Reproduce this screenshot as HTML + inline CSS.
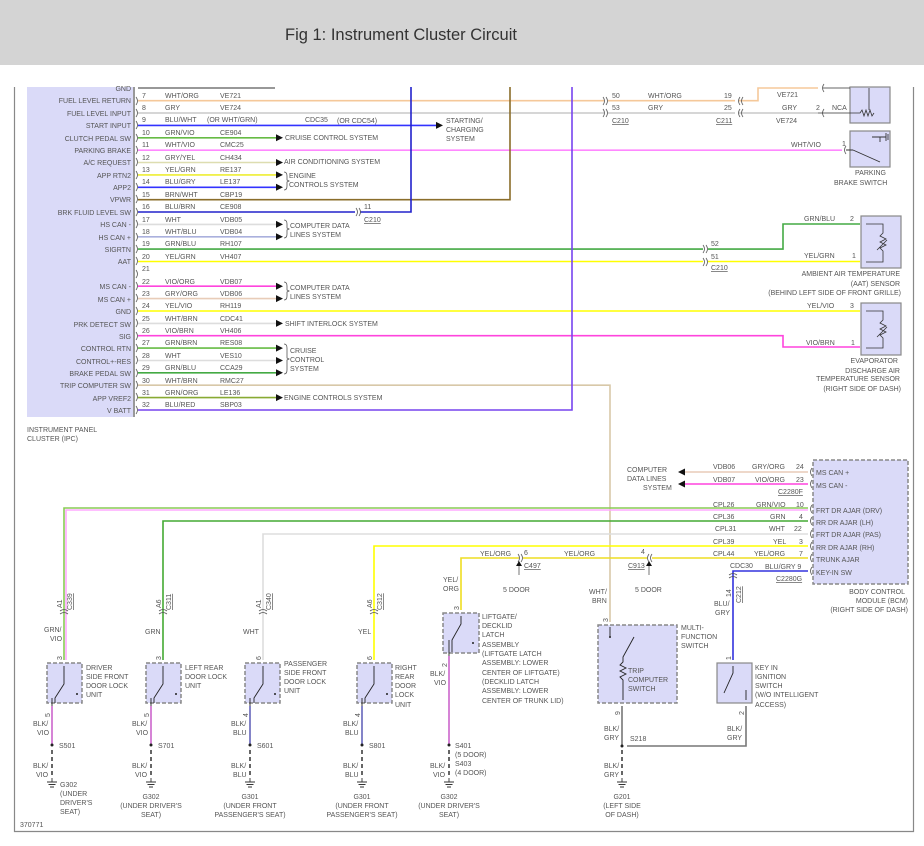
<!DOCTYPE html>
<html><head><meta charset="utf-8"><style>
html,body{margin:0;padding:0;background:#fff;width:924px;height:846px;overflow:hidden}
svg{display:block}
text{font-family:"Liberation Sans",sans-serif;font-size:7px;fill:#555}
.r{text-anchor:end}.m{text-anchor:middle}
.w{fill:none;stroke-width:1.6}
.c{fill:none;stroke:#555;stroke-width:.8}
.box{fill:#dadaf8;stroke:#888;stroke-width:1.2}
.dbox{fill:#dadaf8;stroke:#888;stroke-width:1.5;stroke-dasharray:4 2}
</style></head><body>
<svg width="924" height="846" viewBox="0 0 924 846" xmlns="http://www.w3.org/2000/svg">
<rect x="0" y="0" width="924" height="65" fill="#d4d4d4"/>
<text x="285" y="40" style="font-size:16.5px;fill:#333">Fig 1: Instrument Cluster Circuit</text>
<path d="M14.5 87V831.5H913.5V87" fill="none" stroke="#888" stroke-width="1.2"/>
<!-- IPC -->
<rect x="27" y="87" width="107" height="330" fill="#dadaf8"/>
<line x1="134" y1="87" x2="134" y2="417" stroke="#999" stroke-width="2"/>
<text x="27" y="432">INSTRUMENT PANEL</text><text x="27" y="441">CLUSTER (IPC)</text>
<g class="r">
<text x="131" y="91">GND</text>
<text x="131" y="103">FUEL LEVEL RETURN</text>
<text x="131" y="116">FUEL LEVEL INPUT</text>
<text x="131" y="128">START INPUT</text>
<text x="131" y="141">CLUTCH PEDAL SW</text>
<text x="131" y="153">PARKING BRAKE</text>
<text x="131" y="165">A/C REQUEST</text>
<text x="131" y="178">APP RTN2</text>
<text x="131" y="190">APP2</text>
<text x="131" y="202">VPWR</text>
<text x="131" y="215">BRK FLUID LEVEL SW</text>
<text x="131" y="227">HS CAN -</text>
<text x="131" y="240">HS CAN +</text>
<text x="131" y="252">SIGRTN</text>
<text x="131" y="264">AAT</text>
<text x="131" y="289">MS CAN -</text>
<text x="131" y="302">MS CAN +</text>
<text x="131" y="314">GND</text>
<text x="131" y="327">PRK DETECT SW</text>
<text x="131" y="339">SIG</text>
<text x="131" y="351">CONTROL RTN</text>
<text x="131" y="364">CONTROL+-RES</text>
<text x="131" y="376">BRAKE PEDAL SW</text>
<text x="131" y="388">TRIP COMPUTER SW</text>
<text x="131" y="401">APP VREF2</text>
<text x="131" y="413">V BATT</text>
</g>
<line x1="138" y1="88" x2="275" y2="88" stroke="#777" class="w"/>
<path class="w" stroke="#f5c89a" d="M138 100.7H604M608 100.7H735M739 100.7H758V88H818"/>
<path class="w" stroke="#c8c8c8" d="M138 113H604M608 113H735M739 113H818"/>
<path class="w" stroke="#3333ff" d="M138 125.4H438"/>
<path class="w" stroke="#66bb44" d="M138 137.8H278"/>
<path class="w" stroke="#ff88ff" d="M138 150.2H842"/>
<path class="w" stroke="#ddddb0" d="M138 162.5H278"/>
<path class="w" stroke="#eeee33" d="M138 174.9H278"/>
<path class="w" stroke="#3333ff" d="M138 187.3H278"/>
<path class="w" stroke="#8a6d2a" d="M138 199.7H510V87"/>
<path class="w" stroke="#2222cc" d="M138 212H355M360 212H411V87"/>
<path class="w" stroke="#dddddd" d="M138 224.4H278"/>
<path class="w" stroke="#aab0dd" d="M138 236.8H278"/>
<path class="w" stroke="#44aa44" d="M138 249.1H703M708 249.1H783V224H860"/>
<path class="w" stroke="#ffff00" d="M138 261.5H703M708 261.5H860"/>
<path class="w" stroke="#ff44dd" d="M138 286.2H278"/>
<path class="w" stroke="#e8ccb8" d="M138 298.6H278"/>
<path class="w" stroke="#ffff00" d="M138 311H860"/>
<path class="w" stroke="#dddddd" d="M138 323.4H278"/>
<path class="w" stroke="#ff44dd" d="M138 335.7H783V347H860"/>
<path class="w" stroke="#66bb44" d="M138 348.1H278"/>
<path class="w" stroke="#dddddd" d="M138 360.5H278"/>
<path class="w" stroke="#44aa44" d="M138 372.8H278"/>
<path class="w" stroke="#d8c8a8" d="M138 385.2H610V622"/>
<path class="w" stroke="#88aa33" d="M138 397.6H278"/>
<path class="w" stroke="#7744ee" d="M138 410H572V87"/>
<g>
<text x="142" y="98">7</text><text x="165" y="98">WHT/ORG</text><text x="220" y="98">VE721</text>
<text x="142" y="110">8</text><text x="165" y="110">GRY</text><text x="220" y="110">VE724</text>
<text x="142" y="122">9</text><text x="165" y="122">BLU/WHT</text><text x="207" y="122">(OR WHT/GRN)</text><text x="305" y="122">CDC35</text><text x="337" y="123">(OR CDC54)</text>
<text x="142" y="135">10</text><text x="165" y="135">GRN/VIO</text><text x="220" y="135">CE904</text>
<text x="142" y="147">11</text><text x="165" y="147">WHT/VIO</text><text x="220" y="147">CMC25</text>
<text x="142" y="160">12</text><text x="165" y="160">GRY/YEL</text><text x="220" y="160">CH434</text>
<text x="142" y="172">13</text><text x="165" y="172">YEL/GRN</text><text x="220" y="172">RE137</text>
<text x="142" y="184">14</text><text x="165" y="184">BLU/GRY</text><text x="220" y="184">LE137</text>
<text x="142" y="197">15</text><text x="165" y="197">BRN/WHT</text><text x="220" y="197">CBP19</text>
<text x="142" y="209">16</text><text x="165" y="209">BLU/BRN</text><text x="220" y="209">CE908</text>
<text x="142" y="222">17</text><text x="165" y="222">WHT</text><text x="220" y="222">VDB05</text>
<text x="142" y="234">18</text><text x="165" y="234">WHT/BLU</text><text x="220" y="234">VDB04</text>
<text x="142" y="246">19</text><text x="165" y="246">GRN/BLU</text><text x="220" y="246">RH107</text>
<text x="142" y="259">20</text><text x="165" y="259">YEL/GRN</text><text x="220" y="259">VH407</text>
<text x="142" y="271">21</text>
<text x="142" y="284">22</text><text x="165" y="284">VIO/ORG</text><text x="220" y="284">VDB07</text>
<text x="142" y="296">23</text><text x="165" y="296">GRY/ORG</text><text x="220" y="296">VDB06</text>
<text x="142" y="308">24</text><text x="165" y="308">YEL/VIO</text><text x="220" y="308">RH119</text>
<text x="142" y="321">25</text><text x="165" y="321">WHT/BRN</text><text x="220" y="321">CDC41</text>
<text x="142" y="333">26</text><text x="165" y="333">VIO/BRN</text><text x="220" y="333">VH406</text>
<text x="142" y="345">27</text><text x="165" y="345">GRN/BRN</text><text x="220" y="345">RES08</text>
<text x="142" y="358">28</text><text x="165" y="358">WHT</text><text x="220" y="358">VES10</text>
<text x="142" y="370">29</text><text x="165" y="370">GRN/BLU</text><text x="220" y="370">CCA29</text>
<text x="142" y="383">30</text><text x="165" y="383">WHT/BRN</text><text x="220" y="383">RMC27</text>
<text x="142" y="395">31</text><text x="165" y="395">GRN/ORG</text><text x="220" y="395">LE136</text>
<text x="142" y="407">32</text><text x="165" y="407">BLU/RED</text><text x="220" y="407">SBP03</text>
</g>
<g fill="#111">
<path d="M276 134.3l7 3.5-7 3.5z"/><path d="M276 159l7 3.5-7 3.5z"/><path d="M276 171.4l7 3.5-7 3.5z"/><path d="M276 183.8l7 3.5-7 3.5z"/>
<path d="M276 220.9l7 3.5-7 3.5z"/><path d="M276 233.3l7 3.5-7 3.5z"/><path d="M276 282.7l7 3.5-7 3.5z"/><path d="M276 295.1l7 3.5-7 3.5z"/>
<path d="M276 319.9l7 3.5-7 3.5z"/><path d="M276 344.6l7 3.5-7 3.5z"/><path d="M276 357l7 3.5-7 3.5z"/><path d="M276 369.3l7 3.5-7 3.5z"/>
<path d="M276 394.1l7 3.5-7 3.5z"/><path d="M436 121.9l7 3.5-7 3.5z"/>
<path d="M685 468.5l-7 3.5 7 3.5z"/><path d="M685 480.5l-7 3.5 7 3.5z"/>
</g>
<text x="285" y="140">CRUISE CONTROL SYSTEM</text>
<text x="284" y="164">AIR CONDITIONING SYSTEM</text>
<text x="289" y="178">ENGINE</text><text x="289" y="187">CONTROLS SYSTEM</text>
<text x="290" y="228">COMPUTER DATA</text><text x="290" y="237">LINES SYSTEM</text>
<text x="290" y="290">COMPUTER DATA</text><text x="290" y="299">LINES SYSTEM</text>
<text x="285" y="326">SHIFT INTERLOCK SYSTEM</text>
<text x="290" y="353">CRUISE</text><text x="290" y="362">CONTROL</text><text x="290" y="371">SYSTEM</text>
<text x="284" y="400">ENGINE CONTROLS SYSTEM</text>
<text x="446" y="123">STARTING/</text><text x="446" y="132">CHARGING</text><text x="446" y="141">SYSTEM</text>
<g class="c"><path d="M284 172q3 0 3 4v4l2 1-2 1v4q0 4-3 4"/><path d="M284 220q3 0 3 4v4l2 1-2 1v4q0 4-3 4"/><path d="M284 282q3 0 3 4v4l2 1-2 1v4q0 4-3 4"/><path d="M284 344q3 0 3 4v10l2 1-2 1v10q0 4-3 4"/></g>
<g class="c">
<path d="M136 97q3 4 0 8M136 109q3 4 0 8M136 121q3 4 0 8M136 134q3 4 0 8M136 146q3 4 0 8M136 158q3 4 0 8M136 171q3 4 0 8M136 183q3 4 0 8M136 195q3 4 0 8M136 208q3 4 0 8M136 220q3 4 0 8M136 233q3 4 0 8M136 245q3 4 0 8M136 257q3 4 0 8M136 270q3 4 0 8M136 282q3 4 0 8M136 294q3 4 0 8M136 307q3 4 0 8M136 319q3 4 0 8M136 332q3 4 0 8M136 344q3 4 0 8M136 356q3 4 0 8M136 369q3 4 0 8M136 381q3 4 0 8M136 393q3 4 0 8M136 406q3 4 0 8"/>
<path d="M603 97q3 4 0 8M606 97q3 4 0 8M603 109q3 4 0 8M606 109q3 4 0 8M740 97q-3 4 0 8M743 97q-3 4 0 8M740 109q-3 4 0 8M743 109q-3 4 0 8"/>
<path d="M356 208q3 4 0 8M359 208q3 4 0 8M703 245q3 4 0 8M706 245q3 4 0 8M703 258q3 4 0 8M706 258q3 4 0 8"/>
<path d="M824 84q-3 4 0 8M824 109q-3 4 0 8M846 146q-3 4 0 8M864 220q-3 4 0 8M864 257q-3 4 0 8M864 307q-3 4 0 8M864 343q-3 4 0 8"/>
</g>
<text x="612" y="98">50</text><text x="648" y="98">WHT/ORG</text><text x="724" y="98">19</text><text x="777" y="97">VE721</text>
<text x="612" y="110">53</text><text x="648" y="110">GRY</text><text x="724" y="110">25</text><text x="782" y="110">GRY</text><text x="816" y="110">2</text><text x="832" y="110">NCA</text>
<text x="612" y="123" text-decoration="underline">C210</text><text x="716" y="123" text-decoration="underline">C211</text><text x="776" y="123">VE724</text>
<text x="364" y="209">11</text><text x="364" y="222" text-decoration="underline">C210</text>
<text x="711" y="246">52</text><text x="711" y="259">51</text><text x="711" y="270" text-decoration="underline">C210</text>
<rect x="850" y="87" width="40" height="36" class="box"/>
<path d="M818 113H860l2-3 2 6 2-6 2 6 2-6 2 6 2-3M869 88V110M823 88H850" fill="none" stroke="#333" stroke-width=".8"/>
<rect x="850" y="131" width="40" height="36" class="box"/>
<path d="M846 150H853M853 150L880 162M880 137V142M872 137H886M886 133V141M888 134V140" fill="none" stroke="#333" stroke-width=".9"/>
<text x="791" y="147">WHT/VIO</text><text x="842" y="146">1</text>
<text x="855" y="175">PARKING</text><text x="834" y="185">BRAKE SWITCH</text>
<rect x="861" y="216" width="40" height="52" class="box"/>
<path d="M866 224H883V233l-3 3 6 3-6 3 6 3-6 3 3 3V262H866M877 250l10-10" fill="none" stroke="#333" stroke-width=".8"/>
<text x="804" y="221">GRN/BLU</text><text x="850" y="221">2</text>
<text x="804" y="258">YEL/GRN</text><text x="852" y="258">1</text>
<text class="r" x="900" y="276">AMBIENT AIR TEMPERATURE</text>
<text class="r" x="900" y="286">(AAT) SENSOR</text>
<text class="r" x="901" y="295">(BEHIND LEFT SIDE OF FRONT GRILLE)</text>
<rect x="861" y="303" width="40" height="52" class="box"/>
<path d="M866 311H883V320l-3 3 6 3-6 3 6 3-6 3 3 3V348H866M877 337l10-10" fill="none" stroke="#333" stroke-width=".8"/>
<text x="807" y="308">YEL/VIO</text><text x="850" y="308">3</text>
<text x="806" y="345">VIO/BRN</text><text x="851" y="345">1</text>
<text class="r" x="898" y="363">EVAPORATOR</text><text class="r" x="900" y="373">DISCHARGE AIR</text><text class="r" x="900" y="381">TEMPERATURE SENSOR</text><text class="r" x="901" y="391">(RIGHT SIDE OF DASH)</text>
<rect x="813" y="460" width="95" height="124" class="dbox"/>
<g>
<text x="816" y="475">MS CAN +</text><text x="816" y="488">MS CAN -</text><text x="816" y="513">FRT DR AJAR (DRV)</text><text x="816" y="525">RR DR AJAR (LH)</text><text x="816" y="537">FRT DR AJAR (PAS)</text><text x="816" y="550">RR DR AJAR (RH)</text><text x="816" y="562">TRUNK AJAR</text><text x="816" y="575">KEY-IN SW</text>
</g>
<text class="r" x="905" y="594">BODY CONTROL</text><text class="r" x="908" y="603">MODULE (BCM)</text><text class="r" x="908" y="612">(RIGHT SIDE OF DASH)</text>
<path class="w" stroke="#e8ccb8" d="M685 472H808"/>
<path class="w" stroke="#ff44dd" d="M685 484H808"/>
<text x="713" y="469">VDB06</text><text x="752" y="469">GRY/ORG</text><text x="796" y="469">24</text>
<text x="713" y="482">VDB07</text><text x="755" y="482">VIO/ORG</text><text x="796" y="482">23</text>
<text x="778" y="494" text-decoration="underline">C2280F</text>
<text x="627" y="472">COMPUTER</text><text x="627" y="481">DATA LINES</text><text x="643" y="490">SYSTEM</text>
<path class="w" stroke="#88cc55" d="M64 660V508H808"/><path class="w" stroke="#ffaaff" stroke-width="1" d="M66 660V510H808" />
<path class="w" stroke="#44aa33" d="M163 660V521H808"/>
<path class="w" stroke="#dddddd" d="M263 660V534H808"/>
<path class="w" stroke="#ffff00" d="M374 660V546H808"/>
<path class="w" stroke="#eedd22" d="M461 610V558H519M523 558H647M652 558H808"/>
<path class="w" stroke="#3333dd" d="M733 660V571H808"/>
<g class="c"><path d="M812 468q-3 4 0 8M812 480q-3 4 0 8M812 505q-3 4 0 8M812 517q-3 4 0 8M812 530q-3 4 0 8M812 542q-3 4 0 8M812 554q-3 4 0 8M812 567q-3 4 0 8M518 554q3 4 0 8M521 554q3 4 0 8M649 554q-3 4 0 8M652 554q-3 4 0 8M729 575q4-3 8 0M729 578q4-3 8 0"/></g>
<text x="713" y="507">CPL26</text><text x="756" y="507">GRN/VIO</text><text x="796" y="507">10</text>
<text x="713" y="519">CPL36</text><text x="770" y="519">GRN</text><text x="799" y="519">4</text>
<text x="715" y="531">CPL31</text><text x="769" y="531">WHT</text><text x="794" y="531">22</text>
<text x="713" y="544">CPL39</text><text x="773" y="544">YEL</text><text x="799" y="544">3</text>
<text x="713" y="556">CPL44</text><text x="754" y="556">YEL/ORG</text><text x="799" y="556">7</text>
<text x="730" y="568">CDC30</text><text x="765" y="569">BLU/GRY 9</text>
<text x="776" y="581" text-decoration="underline">C2280G</text>
<text x="480" y="556">YEL/ORG</text><text x="524" y="555">6</text><text x="564" y="556">YEL/ORG</text><text x="641" y="554">4</text>
<text x="524" y="568" text-decoration="underline">C497</text><text x="628" y="568" text-decoration="underline">C913</text>
<path d="M519 562V575M649 562V575" stroke="#555" stroke-width=".8"/><path d="M516 566l3-5 3 5zM646 566l3-5 3 5z" fill="#111"/>
<text x="503" y="592">5 DOOR</text><text x="635" y="592">5 DOOR</text>
<g style="font-size:7px">
<text transform="translate(62,608) rotate(-90)">A1</text><text transform="translate(72,610) rotate(-90)" text-decoration="underline">C339</text>
<text transform="translate(161,608) rotate(-90)">A6</text><text transform="translate(171,610) rotate(-90)" text-decoration="underline">C311</text>
<text transform="translate(261,608) rotate(-90)">A1</text><text transform="translate(271,610) rotate(-90)" text-decoration="underline">C340</text>
<text transform="translate(372,608) rotate(-90)">A6</text><text transform="translate(382,610) rotate(-90)" text-decoration="underline">C312</text>
<text transform="translate(731,597) rotate(-90)">14</text><text transform="translate(741,603) rotate(-90)" text-decoration="underline">C212</text>
</g>
<g class="c"><path d="M60 611q4-3 8 0M60 614q4-3 8 0M159 611q4-3 8 0M159 614q4-3 8 0M259 611q4-3 8 0M259 614q4-3 8 0M370 611q4-3 8 0M370 614q4-3 8 0"/></g>
<text x="44" y="632">GRN/</text><text x="50" y="641">VIO</text>
<text x="145" y="634">GRN</text><text x="243" y="634">WHT</text><text x="358" y="634">YEL</text>
<text x="443" y="582">YEL/</text><text x="443" y="591">ORG</text>
<text x="589" y="594">WHT/</text><text x="592" y="603">BRN</text>
<text x="714" y="606">BLU/</text><text x="715" y="615">GRY</text>
<g>
<rect x="47" y="663" width="35" height="40" class="dbox"/><rect x="146" y="663" width="35" height="40" class="dbox"/><rect x="245" y="663" width="35" height="40" class="dbox"/><rect x="357" y="663" width="35" height="40" class="dbox"/>
<rect x="443" y="613" width="36" height="40" class="dbox"/>
<rect x="598" y="625" width="79" height="78" class="dbox"/>
<rect x="717" y="663" width="35" height="40" class="box"/>
</g>
<g fill="none" stroke="#222" stroke-width=".9">
<path d="M64 666V684L55 698V703M52 698V706"/>
<path d="M163 666V684L154 698V703M151 698V706"/>
<path d="M263 666V684L254 698V703M250 698V706"/>
<path d="M374 666V684L365 698V703M362 698V706"/>
<path d="M461 616V624L452 640V652M449 640V656"/>
<path d="M610 627V637M634 637L623 657V662l-3 3 6 3-6 3 6 3-6 3 3 3V700"/>
<path d="M733 666V673L724 693M746 690V700"/>
</g>
<g fill="#222"><circle cx="77" cy="694" r="1"/><circle cx="176" cy="694" r="1"/><circle cx="275" cy="694" r="1"/><circle cx="387" cy="694" r="1"/><circle cx="473" cy="643" r="1"/><circle cx="610" cy="637" r="1"/></g>
<text x="86" y="670">DRIVER</text><text x="86" y="679">SIDE FRONT</text><text x="86" y="688">DOOR LOCK</text><text x="86" y="697">UNIT</text>
<text x="185" y="670">LEFT REAR</text><text x="185" y="679">DOOR LOCK</text><text x="185" y="688">UNIT</text>
<text x="284" y="666">PASSENGER</text><text x="284" y="675">SIDE FRONT</text><text x="284" y="684">DOOR LOCK</text><text x="284" y="693">UNIT</text>
<text x="395" y="670">RIGHT</text><text x="395" y="679">REAR</text><text x="395" y="688">DOOR</text><text x="395" y="697">LOCK</text><text x="395" y="707">UNIT</text>
<text x="482" y="619">LIFTGATE/</text><text x="482" y="628">DECKLID</text><text x="482" y="637">LATCH</text><text x="482" y="647">ASSEMBLY</text><text x="482" y="656">(LIFTGATE LATCH</text><text x="482" y="665">ASSEMBLY: LOWER</text><text x="482" y="675">CENTER OF LIFTGATE)</text><text x="482" y="684">(DECKLID LATCH</text><text x="482" y="693">ASSEMBLY: LOWER</text><text x="482" y="703">CENTER OF TRUNK LID)</text>
<text x="681" y="630">MULTI-</text><text x="681" y="639">FUNCTION</text><text x="681" y="648">SWITCH</text>
<text x="628" y="673">TRIP</text><text x="628" y="682">COMPUTER</text><text x="628" y="691">SWITCH</text>
<text x="755" y="670">KEY IN</text><text x="755" y="679">IGNITION</text><text x="755" y="688">SWITCH</text><text x="755" y="697">(W/O INTELLIGENT</text><text x="755" y="707">ACCESS)</text>
<g>
<text transform="translate(62,660) rotate(-90)">3</text><text transform="translate(161,660) rotate(-90)">3</text><text transform="translate(261,660) rotate(-90)">6</text><text transform="translate(372,660) rotate(-90)">6</text><text transform="translate(459,610) rotate(-90)">3</text><text transform="translate(608,622) rotate(-90)">3</text><text transform="translate(731,660) rotate(-90)">1</text>
<text transform="translate(50,717) rotate(-90)">5</text><text transform="translate(149,717) rotate(-90)">5</text><text transform="translate(248,717) rotate(-90)">4</text><text transform="translate(360,717) rotate(-90)">4</text><text transform="translate(447,667) rotate(-90)">2</text><text transform="translate(620,715) rotate(-90)">9</text><text transform="translate(744,715) rotate(-90)">2</text>
</g>
<path class="w" stroke="#cc66cc" d="M52 706V745M151 706V745M449 656V745"/>
<path class="w" stroke="#6666bb" d="M250 706V745M362 706V745"/>
<path class="w" stroke="#777" d="M622 706V745M627 746H746V706"/>
<g stroke="#333" stroke-width="1.5" stroke-dasharray="4 3"><path d="M52 750V776M151 750V776M250 750V776M362 750V776M449 750V776M622 750V776"/></g>
<g fill="#222"><circle cx="52" cy="745" r="1.5"/><circle cx="151" cy="745" r="1.5"/><circle cx="250" cy="745" r="1.5"/><circle cx="362" cy="745" r="1.5"/><circle cx="449" cy="745" r="1.5"/><circle cx="622" cy="746" r="1.5"/></g>
<g stroke="#333" stroke-width=".9"><path d="M52 778V782M47 782H57M48.5 784.5H55.5M50 787H54"/><path d="M151 778V782M146 782H156M147.5 784.5H154.5M149 787H153"/><path d="M250 778V782M245 782H255M246.5 784.5H253.5M248 787H252"/><path d="M362 778V782M357 782H367M358.5 784.5H365.5M360 787H364"/><path d="M449 778V782M444 782H454M445.5 784.5H452.5M447 787H451"/><path d="M622 778V782M617 782H627M618.5 784.5H625.5M620 787H624"/></g>
<text x="33" y="726">BLK/</text><text x="37" y="735">VIO</text><text x="132" y="726">BLK/</text><text x="136" y="735">VIO</text><text x="231" y="726">BLK/</text><text x="233" y="735">BLU</text><text x="343" y="726">BLK/</text><text x="345" y="735">BLU</text><text x="430" y="676">BLK/</text><text x="434" y="685">VIO</text><text x="604" y="731">BLK/</text><text x="604" y="740">GRY</text><text x="727" y="731">BLK/</text><text x="727" y="740">GRY</text>
<text x="59" y="748">S501</text><text x="158" y="748">S701</text><text x="257" y="748">S601</text><text x="369" y="748">S801</text><text x="455" y="748">S401</text><text x="455" y="757">(5 DOOR)</text><text x="455" y="766">S403</text><text x="455" y="775">(4 DOOR)</text><text x="630" y="741">S218</text>
<text x="33" y="768">BLK/</text><text x="36" y="777">VIO</text><text x="132" y="768">BLK/</text><text x="135" y="777">VIO</text><text x="231" y="768">BLK/</text><text x="233" y="777">BLU</text><text x="343" y="768">BLK/</text><text x="345" y="777">BLU</text><text x="430" y="768">BLK/</text><text x="433" y="777">VIO</text><text x="604" y="768">BLK/</text><text x="604" y="777">GRY</text>
<text x="60" y="787">G302</text><text x="60" y="796">(UNDER</text><text x="60" y="805">DRIVER'S</text><text x="60" y="814">SEAT)</text>
<text class="m" x="151" y="799">G302</text><text class="m" x="151" y="808">(UNDER DRIVER'S</text><text class="m" x="151" y="817">SEAT)</text>
<text class="m" x="250" y="799">G301</text><text class="m" x="250" y="808">(UNDER FRONT</text><text class="m" x="250" y="817">PASSENGER'S SEAT)</text>
<text class="m" x="362" y="799">G301</text><text class="m" x="362" y="808">(UNDER FRONT</text><text class="m" x="362" y="817">PASSENGER'S SEAT)</text>
<text class="m" x="449" y="799">G302</text><text class="m" x="449" y="808">(UNDER DRIVER'S</text><text class="m" x="449" y="817">SEAT)</text>
<text class="m" x="622" y="799">G201</text><text class="m" x="622" y="808">(LEFT SIDE</text><text class="m" x="622" y="817">OF DASH)</text>
<text x="20" y="827">370771</text>
</svg>
</body></html>
